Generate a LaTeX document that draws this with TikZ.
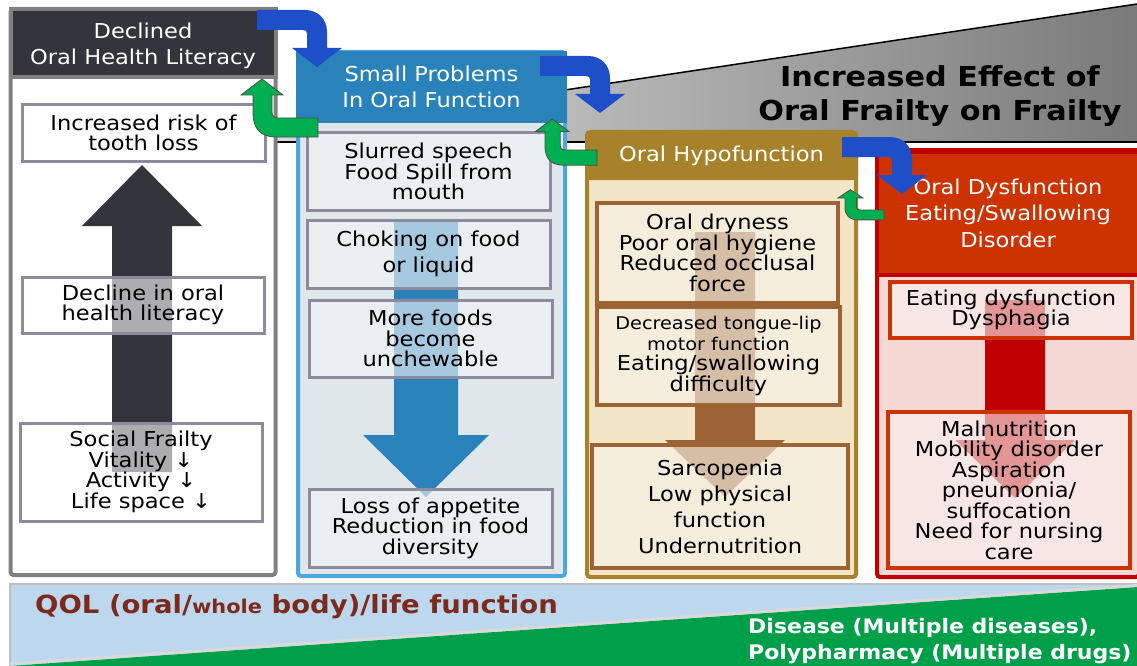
\documentclass[tikz,border=0pt]{standalone}
\usepackage{fontspec}
\setmainfont{DejaVu Sans}[FakeStretch=1.1]
\newcommand\myfs{\fontsize{20.5}{20.5}\selectfont}
\newcommand\myhfs{\fontsize{20.5}{26.5}\selectfont}
\newcommand\mysfs{\fontsize{17.5}{20}\selectfont}
\definecolor{framegray}{HTML}{808080}
\definecolor{darkhead}{HTML}{34343C}
\definecolor{boxgray}{HTML}{8E8A9E}
\definecolor{bluefr}{HTML}{4EA6DC}
\definecolor{bluehead}{HTML}{2A82BB}
\definecolor{bluebody}{HTML}{DFE7EA}
\definecolor{bluebox}{HTML}{F0F4F5}
\definecolor{brownfr}{HTML}{A8822A}
\definecolor{brownbody}{HTML}{F2E5C5}
\definecolor{brownline}{HTML}{9C6434}
\definecolor{brownbox}{HTML}{F8F3EA}
\definecolor{redfr}{HTML}{C00000}
\definecolor{redhead}{HTML}{CC3300}
\definecolor{redbody}{HTML}{F5D8D4}
\definecolor{redbox}{HTML}{F9EFED}
\definecolor{bendblue}{HTML}{1F4FC8}
\definecolor{bendgreen}{HTML}{00B050}
\definecolor{qolblue}{HTML}{BDD7EE}
\definecolor{qolgreen}{HTML}{00A04A}
\definecolor{qoltext}{HTML}{7B2A1B}
\definecolor{trileft}{HTML}{E0E0E0}
\definecolor{triright}{HTML}{7A7A7A}
\begin{document}
\begin{tikzpicture}[x=1pt,y=-1pt,
  colframe/.style={line width=4, rounded corners=3, inner sep=0},
  colhead/.style={line width=4, inner sep=0, text=white, align=center, font=\myhfs},
  lbox/.style={draw=boxgray, line width=3, fill=white, fill opacity=0.6, text opacity=1, align=center, font=\myfs, inner sep=0},
  bbox/.style={lbox, fill=bluebox, fill opacity=0.63},
  brbox/.style={lbox, draw=brownline, line width=4, fill=brownbox, fill opacity=0.63},
  rbox/.style={lbox, draw=redhead, line width=4, fill=redbox, fill opacity=0.63},
  title/.style={align=center, font=\bfseries\fontsize{27.5}{34}\selectfont, inner sep=0},
  qol/.style={font=\bfseries\fontsize{25}{25}\selectfont, text=qoltext, inner sep=0, anchor=west},
  dis/.style={font=\bfseries\fontsize{20}{26}\selectfont, text=white, align=left, inner sep=0, anchor=west},
  bluebend/.pic={\fill[bendblue] (0,0) -- (48,0) .. controls (61,0) and (70,9) .. (70,22) -- (70,38) -- (85,38) -- (60,57) -- (35,38) -- (50,38) -- (50,24) .. controls (50,21) and (49,20) .. (46,20) -- (0,20) -- cycle;},
  greenbend/.pic={\filldraw[fill=bendgreen, draw=black!70, line width=0.8] (0,0) -- (-40,0) .. controls (-44,0) and (-46,-2) .. (-46,-6) -- (-46,-23) -- (-35,-23) -- (-56,-39) -- (-77,-23) -- (-65,-23) -- (-65,-5) .. controls (-65,10) and (-58,19) .. (-42,19) -- (0,19) -- cycle;}
]
\path[use as bounding box] (0,0) rectangle (1137,666);
% gray wedge
\shade[left color=trileft, right color=triright] (219,142) -- (1137,4) -- (1137,142) -- cycle;
\draw[line width=1.5] (219,142) -- (1137,4);
\draw[line width=1.5] (219,142) -- (1137,142);
\node[title] (title) at (940,96) {Increased Effect of\\Oral Frailty on Frailty};

% left column
\node[colframe, draw=framegray, fill=white, minimum width=265, minimum height=566] (lcol) at (143,292) {};
\node[colhead, fill=darkhead, draw=framegray, minimum width=265, minimum height=68] (lhead) at (143,43) {};
\node[colhead] (lheadtext) at (143,46) {Declined\\Oral Health Literacy};
\fill[darkhead] (112,472) -- (112,226) -- (82,226) -- (142,165) -- (202,226) -- (172,226) -- (172,472) -- cycle;
\node[lbox, minimum width=243, minimum height=56] (l1) at (143.5,133) {Increased risk of\\tooth loss};
\node[lbox, minimum width=242, minimum height=56] (l2) at (143,305) {Decline in oral\\health literacy};
\node[lbox, minimum width=242, minimum height=98] (l3) at (141,472) {Social Frailty\\Vitality ↓\\Activity ↓\\Life space ↓};

% blue column
\node[colframe, draw=bluefr, fill=bluebody, minimum width=267, minimum height=524] (bcol) at (431.5,314) {};
\node[colhead, fill=bluehead, draw=bluehead, minimum width=267, minimum height=68] (bhead) at (431.5,87) {Small Problems\\In Oral Function};
\fill[bluehead] (394,222) -- (394,435) -- (363,435) -- (426,497) -- (489,435) -- (458,435) -- (458,222) -- cycle;
\node[bbox, minimum width=243, minimum height=77] (b1) at (428.5,171.5) {Slurred speech\\Food Spill from\\mouth};
\node[bbox, minimum width=243, minimum height=68] (b2) at (428.5,254) {Choking on food\\[5.5pt]or liquid};
\node[bbox, minimum width=243, minimum height=77] (b3) at (430.5,338.5) {More foods\\become\\unchewable};
\node[bbox, minimum width=243, minimum height=78] (b4) at (430.5,528) {Loss of appetite\\Reduction in food\\diversity};

% brown column
\node[colframe, draw=brownfr, fill=brownbody, minimum width=269, minimum height=445] (wcol) at (721.5,354.5) {};
\node[colhead, fill=brownfr, draw=brownfr, minimum width=269, minimum height=45, rounded corners=3] (whead) at (721.5,155.5) {Oral Hypofunction};
\fill[brownline] (695,232) -- (695,440) -- (665,440) -- (725,497) -- (785,440) -- (755,440) -- (755,232) -- cycle;
\node[brbox, minimum width=241, minimum height=100] (w1) at (717.5,253) {Oral dryness\\Poor oral hygiene\\Reduced occlusal\\force};
\node[brbox, minimum width=243, minimum height=98] (w2) at (718.5,356) {\mysfs Decreased tongue-lip\\\mysfs motor function\\\myfs Eating/swallowing\\difficulty};
\node[brbox, minimum width=256, minimum height=123] (w3) at (720,506.5) {Sarcopenia\\[5.5pt]Low physical\\[5.5pt]function\\[5.5pt]Undernutrition};

% red column
\node[colframe, draw=redfr, fill=redbody, minimum width=262, minimum height=427] (rcol) at (1008,363.5) {};
\node[colhead, fill=redhead, draw=redfr, minimum width=262, minimum height=123] (rhead) at (1008,213) {Oral Dysfunction\\Eating/Swallowing\\Disorder};
\fill[redfr] (985,300) -- (985,440) -- (955,440) -- (1015,498) -- (1075,440) -- (1045,440) -- (1045,300) -- cycle;
\node[rbox, minimum width=242, minimum height=56] (r1) at (1011,310) {Eating dysfunction\\Dysphagia};
\node[rbox, minimum width=242, minimum height=156] (r2) at (1009,490) {Malnutrition\\Mobility disorder\\Aspiration\\pneumonia/\\suffocation\\Need for nursing\\care};

% bent arrows
\pic at (257,10) {bluebend};
\pic at (540,56) {bluebend};
\pic at (842,137) {bluebend};
\pic at (318,118) {greenbend};
\pic[scale=0.8] at (597,150) {greenbend};
\pic[xscale=0.6, yscale=0.52] at (884,210) {greenbend};

% bottom band
\fill[qolblue] (10,584) rectangle (1137,666);
\draw[black!25, line width=2] (10,666) -- (10,584) -- (1137,584);
\fill[qolgreen] (10,666) -- (1137,587) -- (1137,666) -- cycle;
\draw[black!15, line width=3] (10,664) -- (1137,585.5);
\node[qol] (qol) at (35,607) {QOL (oral/{\fontsize{19}{19}\selectfont whole} body)/life function};
\node[dis] (dis) at (748,641) {Disease (Multiple diseases),\\Polypharmacy (Multiple drugs)};
\end{tikzpicture}
\end{document}
